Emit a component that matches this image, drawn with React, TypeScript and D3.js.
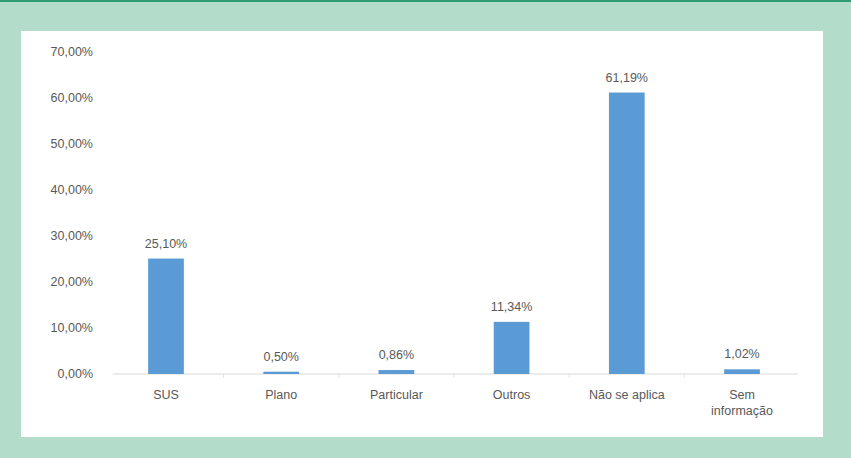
import React from "react";
import * as d3 from "d3";

const categories = ["SUS", "Plano", "Particular", "Outros", "Não se aplica", "Sem informação"];
const values = [25.1, 0.5, 0.86, 11.34, 61.19, 1.02];
const yTicks = [0, 10, 20, 30, 40, 50, 60, 70];

const fmt = (v: number) => v.toFixed(2).replace(".", ",") + "%";

export default function App() {
  const W = 851, H = 458;
  const x = d3.scaleBand<string>().domain(categories).range([108.4, 799.6]).paddingInner(0.69).paddingOuter(0.345);
  const y = d3.scaleLinear().domain([0, 70]).range([374, 52]);
  const font = "Liberation Sans, Arial, sans-serif";
  const txt = "#595959";
  const step = x.step();
  return (
    <svg width={W} height={H} style={{ position: "absolute", left: 0, top: 0 }}>
      <rect x={0} y={0} width={W} height={H} fill="#b3dccb" />
      <rect x={0} y={0} width={W} height={2} fill="#2e9d74" />
      <rect x={21} y={31} width={802} height={406} fill="#ffffff" />
      {yTicks.map((t) => (
        <text key={t} x={93} y={y(t)} dy="0.35em" textAnchor="end" fontFamily={font} fontSize={12.5} fill={txt}>
          {fmt(t)}
        </text>
      ))}
      <line x1={113} x2={798} y1={y(0)} y2={y(0)} stroke="#d9d9d9" strokeWidth={1} />
      {categories.slice(1).map((c) => (
        <line key={"t" + c} x1={x(c)! - (step - x.bandwidth()) / 2} x2={x(c)! - (step - x.bandwidth()) / 2}
          y1={y(0)} y2={y(0) + 4} stroke="#e3e3e3" strokeWidth={1} />
      ))}
      {categories.map((c, i) => {
        const bx = x(c)!;
        const bw = x.bandwidth();
        const cx = bx + bw / 2;
        const parts = c === "Sem informação" ? ["Sem", "informação"] : [c];
        return (
          <g key={c}>
            <rect x={bx} y={y(values[i])} width={bw} height={y(0) - y(values[i])} fill="#5b9bd5" />
            <text x={cx} y={y(values[i]) - 11} textAnchor="middle" fontFamily={font} fontSize={12.5} fill={txt}>
              {fmt(values[i])}
            </text>
            {parts.map((p, j) => (
              <text key={p} x={cx} y={399 + j * 16} textAnchor="middle" fontFamily={font} fontSize={12.5} fill={txt}>
                {p}
              </text>
            ))}
          </g>
        );
      })}
    </svg>
  );
}
